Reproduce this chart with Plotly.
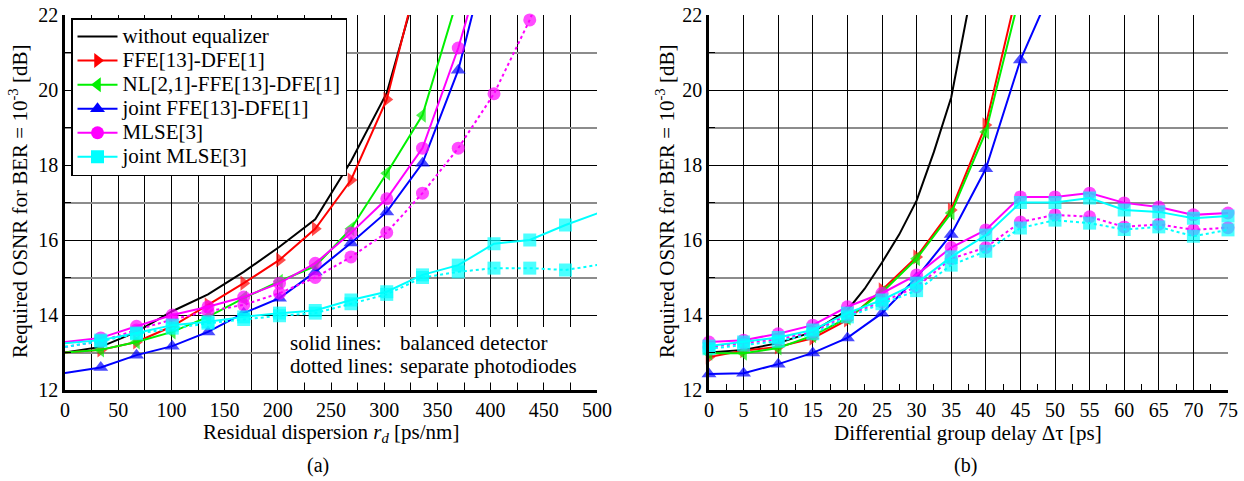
import plotly.graph_objects as go

# ---------------- data: (a) residual dispersion ----------------
rd = [0, 33.6, 67.2, 100.8, 134.4, 168.0, 201.6, 235.2, 268.8, 302.4,
      336.0, 369.6, 403.2, 436.8, 470.4, 504.0]
a_noeq = [13.0, 13.15, 13.55, 14.1, 14.55, 15.15, 15.82, 16.55, 18.1, 19.92, 23.3]
a_ffe = [13.0, 13.07, 13.28, 13.7, 14.27, 14.85, 15.47, 16.3, 17.6, 19.75, 23.5]
a_nl = [13.0, 13.07, 13.28, 13.55, 13.95, 14.45, 14.9, 15.3, 16.3, 17.78, 19.33, 22.5]
a_jffe = [12.45, 12.6, 12.93, 13.17, 13.55, 14.05, 14.45, 15.15, 15.92, 16.75, 18.05, 20.53, 24.3]
a_mlse = [13.28, 13.39, 13.7, 14.0, 14.22, 14.48, 14.85, 15.38, 16.19, 17.1, 18.45, 21.12, 24.4]
a_mlse_sep = [13.15, 13.3, 13.6, 13.88, 14.1, 14.27, 14.58, 15.0, 15.55, 16.2, 17.25,
              18.45, 19.9, 21.87, 24.3]
a_jmlse = [13.25, 13.33, 13.52, 13.73, 13.82, 13.95, 14.05, 14.12, 14.4, 14.62, 15.07,
           15.33, 15.9, 16.0, 16.4, 16.75]
a_jmlse_sep = [13.15, 13.3, 13.5, 13.65, 13.78, 13.88, 13.98, 14.05, 14.3, 14.55, 15.0,
               15.15, 15.25, 15.25, 15.2, 15.35]

# ---------------- data: (b) differential group delay ----------------
dgd = [0, 5, 10, 15, 20, 25, 30, 35, 40, 45, 50, 55, 60, 65, 70, 75]
dgd_noeq = [0, 5, 10, 15, 20, 22.5, 25, 27.5, 30, 32.5, 35, 37.5, 40]
b_noeq = [13.0, 13.07, 13.25, 13.55, 14.13, 14.7, 15.4, 16.15, 17.05, 18.35, 19.8, 22.1, 24.6]
b_ffe = [12.88, 13.05, 13.15, 13.38, 13.87, 14.67, 15.55, 16.8, 19.07, 23.0]
b_nl = [12.98, 12.98, 13.12, 13.45, 13.92, 14.6, 15.5, 16.72, 18.88, 22.6]
b_jffe = [12.43, 12.45, 12.69, 12.99, 13.39, 14.05, 15.0, 16.15, 17.9, 20.8, 22.9]
b_mlse = [13.28, 13.33, 13.5, 13.73, 14.22, 14.58, 15.07, 15.8, 16.27, 17.15, 17.15,
          17.25, 16.99, 16.88, 16.67, 16.72]
b_mlse_sep = [13.15, 13.25, 13.35, 13.55, 14.0, 14.35, 14.75, 15.5, 15.8, 16.48, 16.67,
              16.62, 16.35, 16.42, 16.27, 16.33]
b_jmlse = [13.17, 13.28, 13.4, 13.6, 14.05, 14.4, 14.85, 15.55, 16.13, 17.0, 17.0,
           17.12, 16.8, 16.75, 16.58, 16.64]
b_jmlse_sep = [13.1, 13.2, 13.3, 13.5, 13.95, 14.3, 14.65, 15.33, 15.7, 16.32, 16.53,
               16.45, 16.28, 16.35, 16.1, 16.27]

legend_names = ["without equalizer", "FFE[13]-DFE[1]", "NL[2,1]-FFE[13]-DFE[1]",
                "joint FFE[13]-DFE[1]", "MLSE[3]", "joint MLSE[3]"]

FONT = "Liberation Serif, Times New Roman, serif"
YMAX = 22
MS = 13

styles = {
    "noeq": dict(color="#000000", symbol=None),
    "ffe": dict(color="#FF0000", symbol="triangle-right"),
    "nl": dict(color="#00F000", symbol="triangle-left"),
    "jffe": dict(color="#0000FF", symbol="triangle-up"),
    "mlse": dict(color="#FF00FF", symbol="circle"),
    "jmlse": dict(color="#00FFFF", symbol="square"),
}

fig = go.Figure()


def add_series(xs, ys, key, xa, ya, dash="solid", skip_first=False):
    st = styles[key]
    xs = xs[:len(ys)]
    fig.add_trace(go.Scatter(x=xs, y=ys, mode="lines", xaxis=xa, yaxis=ya,
                             line=dict(color=st["color"], width=2, dash=dash),
                             showlegend=False, hoverinfo="skip", cliponaxis=True))
    if st["symbol"] is not None:
        sizes = []
        for i, v in enumerate(ys):
            if (skip_first and i == 0) or v > YMAX:
                sizes.append(0)
            else:
                sizes.append(MS)
        fig.add_trace(go.Scatter(x=xs, y=ys, mode="markers", xaxis=xa, yaxis=ya,
                                 marker=dict(color=st["color"], symbol=st["symbol"],
                                             size=sizes, line=dict(width=0)),
                                 showlegend=False, cliponaxis=False))


# (a)
add_series(rd, a_noeq, "noeq", "x", "y")
add_series(rd, a_ffe, "ffe", "x", "y", skip_first=True)
add_series(rd, a_nl, "nl", "x", "y", skip_first=True)
add_series(rd, a_jffe, "jffe", "x", "y", skip_first=True)
add_series(rd, a_mlse, "mlse", "x", "y", skip_first=True)
add_series(rd, a_mlse_sep, "mlse", "x", "y", dash="dot", skip_first=True)
add_series(rd, a_jmlse, "jmlse", "x", "y", skip_first=True)
add_series(rd, a_jmlse_sep, "jmlse", "x", "y", dash="dot", skip_first=True)

# (b)
add_series(dgd_noeq, b_noeq, "noeq", "x2", "y2")
add_series(dgd, b_ffe, "ffe", "x2", "y2")
add_series(dgd, b_nl, "nl", "x2", "y2")
add_series(dgd, b_jffe, "jffe", "x2", "y2")
add_series(dgd, b_mlse, "mlse", "x2", "y2")
add_series(dgd, b_mlse_sep, "mlse", "x2", "y2", dash="dot")
add_series(dgd, b_jmlse, "jmlse", "x2", "y2")
add_series(dgd, b_jmlse_sep, "jmlse", "x2", "y2", dash="dot")

# legend entries (text enlarged inline, row spacing kept tight like the reference)
for name, key in zip(legend_names, ["noeq", "ffe", "nl", "jffe", "mlse", "jmlse"]):
    st = styles[key]
    label = '<span style="font-size:21px">' + name + '</span>'
    if st["symbol"] is None:
        fig.add_trace(go.Scatter(x=[None], y=[None], mode="lines", name=label,
                                 line=dict(color=st["color"], width=2)))
    else:
        fig.add_trace(go.Scatter(x=[None], y=[None], mode="lines+markers", name=label,
                                 line=dict(color=st["color"], width=2),
                                 marker=dict(color=st["color"], symbol=st["symbol"], size=MS)))

W, H = 1244, 481


def px(x):
    return x / W


def py(y):
    return 1 - y / H


yaxis_common = dict(range=[12, 22], dtick=2, tick0=12, showgrid=True, gridcolor="#000000",
                    gridwidth=1, zeroline=False, showline=True, linecolor="#000000",
                    linewidth=2.5, ticks="inside", ticklen=6, tickcolor="#000000",
                    tickfont=dict(family=FONT, size=20, color="#000000"),
                    minor=dict(dtick=1, showgrid=True, gridcolor="#8c8c8c", gridwidth=2,
                               ticks="inside", ticklen=6, tickcolor="#000000"),
                    automargin=False, ticklabeloverflow="allow", domain=[py(390), py(15)])

xaxis_common = dict(showgrid=True, gridcolor="#000000", gridwidth=1, zeroline=False,
                    showline=True, linecolor="#000000", linewidth=2.5,
                    ticks="inside", ticklen=6, tickcolor="#000000",
                    tickfont=dict(family=FONT, size=20, color="#000000"),
                    automargin=False, ticklabeloverflow="allow")

fig.update_layout(
    template="plotly",
    width=W, height=H, margin=dict(l=0, r=0, t=0, b=0, pad=0, autoexpand=False),
    paper_bgcolor="white", plot_bgcolor="white",
    font=dict(family=FONT, size=20, color="#000000"),
    xaxis=dict(domain=[px(65), px(597)], range=[0, 500], dtick=50, tick0=0,
               minor=dict(dtick=25, showgrid=True, gridcolor="#000000", gridwidth=1,
                          ticks="inside", ticklen=6, tickcolor="#000000"),
               anchor="y", **xaxis_common),
    yaxis=dict(anchor="x", **yaxis_common),
    xaxis2=dict(domain=[px(709), px(1228)], range=[0, 75], dtick=5, tick0=0,
                minor=dict(dtick=2.5, showgrid=False, ticks="inside", ticklen=6,
                           tickcolor="#000000"),
                anchor="y2", **xaxis_common),
    yaxis2=dict(anchor="x2", **yaxis_common),
    showlegend=True,
    legend=dict(x=px(71), y=py(18), xanchor="left", yanchor="top",
                bgcolor="white", bordercolor="#000000", borderwidth=1.5,
                font=dict(family=FONT, size=16.2, color="#000000"),
                itemwidth=40, tracegroupgap=0),
)

# white box behind the line-style note
fig.add_shape(type="rect", xref="x", yref="y", x0=202, x1=500, y0=12.2, y1=13.68,
              fillcolor="white", line=dict(width=0), layer="above")

ann = []


def txt(x, y, s, xanchor="center", angle=0, size=21):
    ann.append(dict(x=px(x), y=py(y), xref="paper", yref="paper", text=s, showarrow=False,
                    xanchor=xanchor, yanchor="middle", textangle=angle,
                    font=dict(family=FONT, size=size, color="#000000")))


ytitle = "Required OSNR for BER = 10<sup>-3</sup> [dB]"
txt(18, 202, ytitle, angle=-90)
txt(665, 202, ytitle, angle=-90)
txt(331, 433, "Residual dispersion <i>r<sub>d</sub></i> [ps/nm]")
txt(968, 433, "Differential group delay Δτ [ps]")
txt(318, 465, "(a)", size=20)
txt(965, 465, "(b)", size=20)
txt(288, 343, "solid lines:", xanchor="left")
txt(398, 343, "balanced detector", xanchor="left")
txt(288, 366, "dotted lines:", xanchor="left")
txt(398, 366, "separate photodiodes", xanchor="left")
fig.update_layout(annotations=ann)

# remove the browser's default page margin so the figure sits at the window's corner
fig.write_html("out.html", config={"displayModeBar": False},
               post_script="document.body.style.margin='0';document.body.style.overflow='hidden';")
